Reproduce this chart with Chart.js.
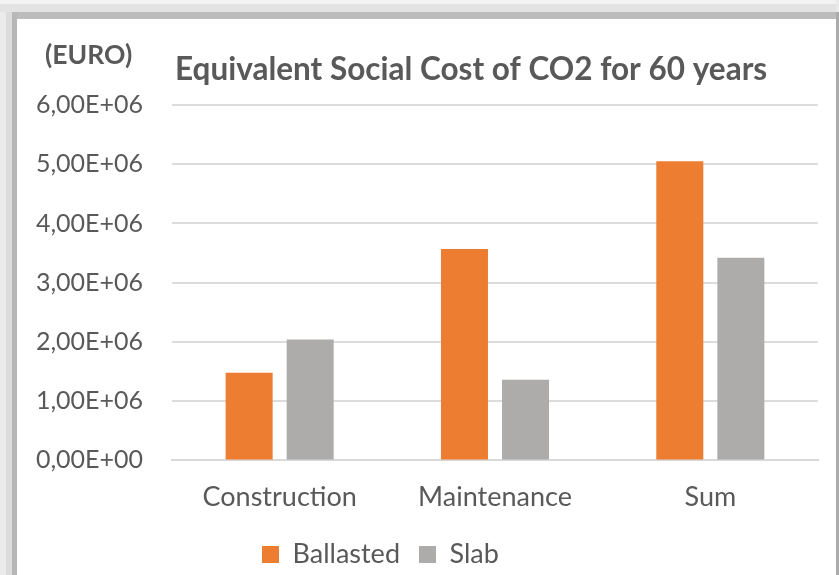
<!DOCTYPE html>
<html>
<head>
<meta charset="utf-8">
<title>Equivalent Social Cost of CO2 for 60 years</title>
<script src="https://cdn.jsdelivr.net/npm/chart.js@4/dist/chart.umd.min.js"></script>
<style>
  html, body { margin: 0; padding: 0; background: #ffffff; }
  #wrap { width: 839px; height: 575px; }
</style>
</head>
<body>
<div id="wrap"><canvas id="chart" width="839" height="575"></canvas></div>
<script>
// Cost categories and the two track systems (EUR over 60 years)
const categories = ['Construction', 'Maintenance', 'Sum'];
const ballasted = [1.48e6, 3.57e6, 5.05e6];
const slab = [2.04e6, 1.36e6, 3.42e6];
const seriesNames = ['Ballasted', 'Slab'];
const yTicks = [0, 1e6, 2e6, 3e6, 4e6, 5e6, 6e6];

const titleText = 'Equivalent Social Cost of CO2 for 60 years';
const unitText = '(EURO)';

const TEXT = '#595959';
const FONT = 'Lato, "Noto Sans", sans-serif';

// "6,00E+06" style scientific labels with a decimal comma
function sci(v) {
  const parts = Number(v).toExponential(2).split('e');
  const exp = parseInt(parts[1], 10);
  return parts[0].replace('.', ',') + 'E' + (exp < 0 ? '-' : '+') + String(Math.abs(exp)).padStart(2, '0');
}

// Shadowed card behind the chart, plus headings and legend placement
const framePlugin = {
  id: 'frame',
  beforeDraw(chart) {
    const c = chart.ctx;
    const W = chart.width, H = chart.height;
    c.save();
    c.fillStyle = '#ffffff';
    c.fillRect(0, 0, W, H);
    // top band
    c.fillStyle = '#f3f3f3'; c.fillRect(0, 0, W, 4);
    c.fillStyle = '#e3e3e3'; c.fillRect(0, 4, W, 8);
    c.fillStyle = '#bcbcbc'; c.fillRect(0, 12, W, 7);
    // left band
    c.fillStyle = '#ebebeb'; c.fillRect(0, 12, 6, H - 12);
    c.fillStyle = '#dcdcdc'; c.fillRect(6, 12, 6, H - 12);
    c.fillStyle = '#b7b7b7'; c.fillRect(12, 12, 5, H - 12);
    // right edge
    c.fillStyle = '#e9e9e9'; c.fillRect(W - 3, 0, 3, 12);
    c.fillStyle = '#ababab'; c.fillRect(W - 3, 12, 3, H - 12);
    c.restore();
  },
  afterLayout(chart) {
    const lg = chart.legend;
    if (lg) {
      const w = lg.right - lg.left;
      const h = lg.bottom - lg.top;
      lg.left = 243;
      lg.right = 243 + w;
      lg.top = 522;
      lg.bottom = 522 + h;
    }
  },
  afterDraw(chart) {
    const c = chart.ctx;
    c.save();
    c.fillStyle = TEXT;
    c.textBaseline = 'middle';
    c.textAlign = 'left';
    c.font = 'bold 26.5px ' + FONT;
    c.fillText(unitText, 45, 55);
    c.font = 'bold 31.5px ' + FONT;
    c.fillText(titleText, 175, 70);
    c.restore();
  }
};

new Chart(document.getElementById('chart'), {
  type: 'bar',
  data: {
    labels: categories,
    datasets: [
      { label: seriesNames[0], data: ballasted, backgroundColor: '#ED7D31', categoryPercentage: 0.567, barPercentage: 0.77 },
      { label: seriesNames[1], data: slab, backgroundColor: '#AEABAB', categoryPercentage: 0.567, barPercentage: 0.77 }
    ]
  },
  options: {
    responsive: false,
    animation: false,
    devicePixelRatio: 1,
    layout: { padding: { left: 17, right: 21, top: 105, bottom: 0 } },
    plugins: {
      title: { display: false },
      tooltip: { enabled: false },
      legend: {
        display: true,
        position: 'bottom',
        align: 'start',
        labels: {
          boxWidth: 17,
          boxHeight: 17,
          padding: 19,
          color: TEXT,
          font: { family: FONT, size: 27 }
        }
      }
    },
    scales: {
      x: {
        grid: { display: false, drawTicks: false },
        border: { display: true, color: '#d9d9d9', width: 2 },
        ticks: { color: TEXT, font: { family: FONT, size: 27 }, padding: 21 },
        afterFit(scale) { scale.height = 58.6; }
      },
      y: {
        min: 0,
        max: 6e6,
        afterBuildTicks(scale) { scale.ticks = yTicks.map(v => ({ value: v })); },
        grid: { color: '#dcdcdc', lineWidth: 2, drawTicks: false },
        border: { display: false },
        ticks: { color: TEXT, font: { family: FONT, size: 25 }, padding: 29, callback: v => sci(v) },
        afterFit(scale) { scale.width = 155; }
      }
    }
  },
  plugins: [framePlugin]
});
</script>
</body>
</html>
